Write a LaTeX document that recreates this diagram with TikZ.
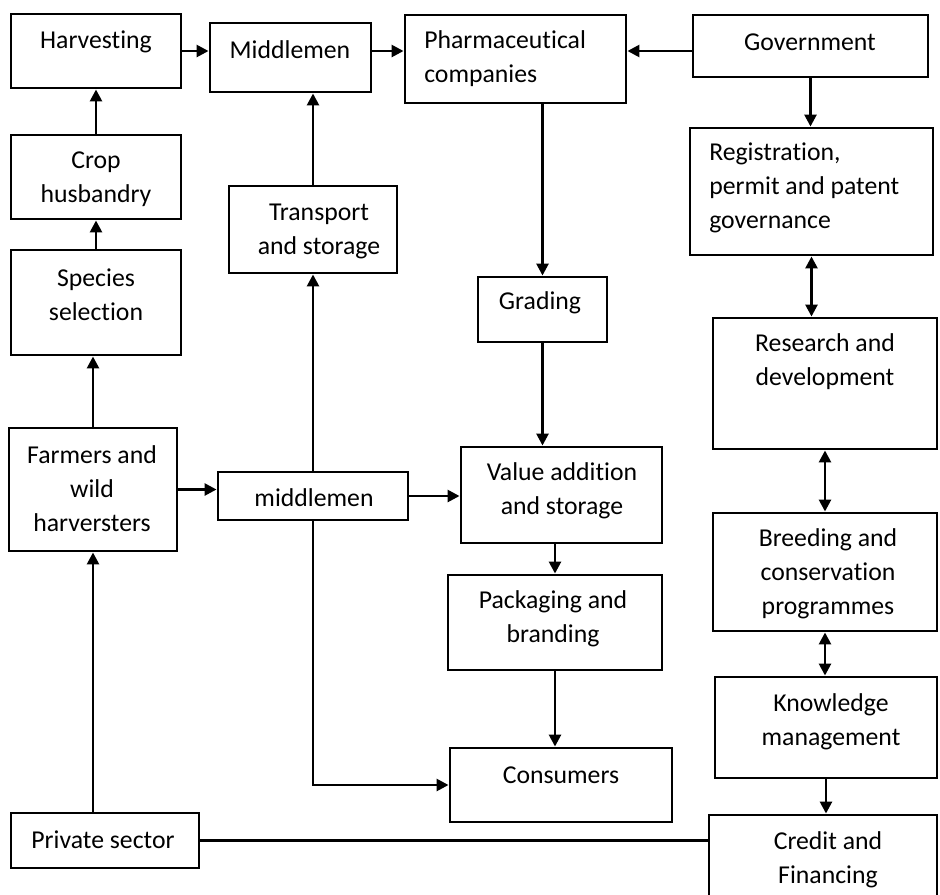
\documentclass[tikz,border=0pt]{standalone}
\usepackage{fontspec}
\setmainfont{Carlito}[Ligatures=NoCommon]
\usetikzlibrary{arrows.meta,fit}

\begin{document}
\begin{tikzpicture}[x=0.75pt, y=-0.75pt,
    box/.style={draw, line width=2.2pt, inner sep=0pt},
    lbl/.style={inner sep=0pt, align=center, font=\fontsize{19.3}{25.5}\selectfont},
    arr/.style={line width=2pt, -{Triangle[length=9pt,width=9pt]}},
    twoway/.style={line width=2pt, {Triangle[length=9pt,width=9pt]}-{Triangle[length=9pt,width=9pt]}}]
    \useasboundingbox (0, 0) rectangle (940, 894);
    \clip (0, 0) rectangle (940, 894);
    % left column
    \node [box, fit={(11, 14) (181, 88)}] (harv) {};
    \node [lbl] (harvT) at (96, 42) {Harvesting};
    \node [box, fit={(11, 135) (181, 219)}] (crop) {};
    \node [lbl] (cropT) at (96, 179) {Crop\\husbandry};
    \node [box, fit={(11, 250) (181, 355)}] (spec) {};
    \node [lbl] (specT) at (96, 295) {Species\\selection};
    \node [box, fit={(9, 428) (177, 551)}] (farm) {};
    \node [lbl] (farmT) at (92, 489) {Farmers and\\wild\\harversters};
    \node [box, fit={(11, 813) (199, 868)}] (priv) {};
    \node [lbl] (privT) at (103, 840) {Private sector};
    % middle column
    \node [box, fit={(210, 23) (371, 92)}] (midt) {};
    \node [lbl] (midtT) at (290, 50) {Middlemen};
    \node [box, fit={(229, 186) (397, 273)}] (trans) {};
    \node [lbl] (transT) at (319, 231) {Transport\\and storage};
    \node [box, fit={(218, 472) (408, 520)}] (midl) {};
    \node [lbl] (midlT) at (314, 498) {middlemen};
    \node [box, fit={(405, 15) (626, 103)}] (pharma) {};
    \node [lbl, align=left, anchor=west] (pharmaT) at (424, 59) {Pharmaceutical\\companies};
    \node [box, fit={(478, 277) (607, 342)}] (grad) {};
    \node [lbl] (gradT) at (540, 303) {Grading};
    \node [box, fit={(461, 447) (662, 543)}] (val) {};
    \node [lbl] (valT) at (562, 491) {Value addition\\and storage};
    \node [box, fit={(448, 575) (662, 670)}] (pack) {};
    \node [lbl] (packT) at (553, 619) {Packaging and\\branding};
    \node [box, fit={(450, 748) (672, 822)}] (cons) {};
    \node [lbl] (consT) at (561, 775) {Consumers};
    % right column
    \node [box, fit={(693, 15) (928, 77)}] (gov) {};
    \node [lbl] (govT) at (810, 42) {Government};
    \node [box, fit={(690, 128) (933, 255)}] (reg) {};
    \node [lbl, align=left, anchor=west] (regT) at (709, 188) {Registration,\\permit and patent\\governance};
    \node [box, fit={(713, 318) (937, 449)}] (res) {};
    \node [lbl] (resT) at (825, 362) {Research and\\development};
    \node [box, fit={(713, 513) (937, 631)}] (breed) {};
    \node [lbl] (breedT) at (828, 574) {Breeding and\\conservation\\programmes};
    \node [box, fit={(715, 677) (937, 778)}] (know) {};
    \node [lbl] (knowT) at (831, 722) {Knowledge\\management};
    \node [box, fit={(709, 815) (937, 915)}] (cred) {};
    \node [lbl] (credT) at (828, 860) {Credit and\\Financing};
    % arrows
    \draw [arr] (crop) -- (crop |- harv.south);
    \draw [arr] (spec) -- (spec |- crop.south);
    \draw [arr] (farm) -- (farm |- spec.south);
    \draw [arr] (farm |- priv.north) -- (farm.south);
    \draw [arr] (harv.east) -- (harv.east -| midt.west);
    \draw [arr] (midt.east |- harv.east) -- (pharma.west |- harv.east);
    \draw [arr] (gov.west |- harv.east) -- (pharma.east |- harv.east);
    \draw [arr] (gov) -- (gov |- reg.north);
    \draw [arr] (grad |- pharma.south) -- (grad.north);
    \draw [arr] (grad) -- (grad |- val.north);
    \draw [twoway] (reg) -- (reg |- res.north);
    \draw [twoway] (res) -- (res |- breed.north);
    \draw [twoway] (breed) -- (breed |- know.north);
    \draw [arr] (know) -- (know |- cred.north);
    \draw [arr] (pack |- val.south) -- (pack.north);
    \draw [arr] (pack) -- (pack |- cons.north);
    \draw [arr] (farm.east) -- (farm.east -| midl.west);
    \draw [arr] (midl.east) -- (midl.east -| val.west);
    \draw [arr] (trans |- midl.north) -- (trans.south);
    \draw [arr] (trans) -- (trans |- midt.south);
    \draw [arr] (midl.south) |- (cons.west);
    \draw [line width=1.7pt] (priv.east) -- (priv.east -| cred.west);
\end{tikzpicture}
\end{document}
